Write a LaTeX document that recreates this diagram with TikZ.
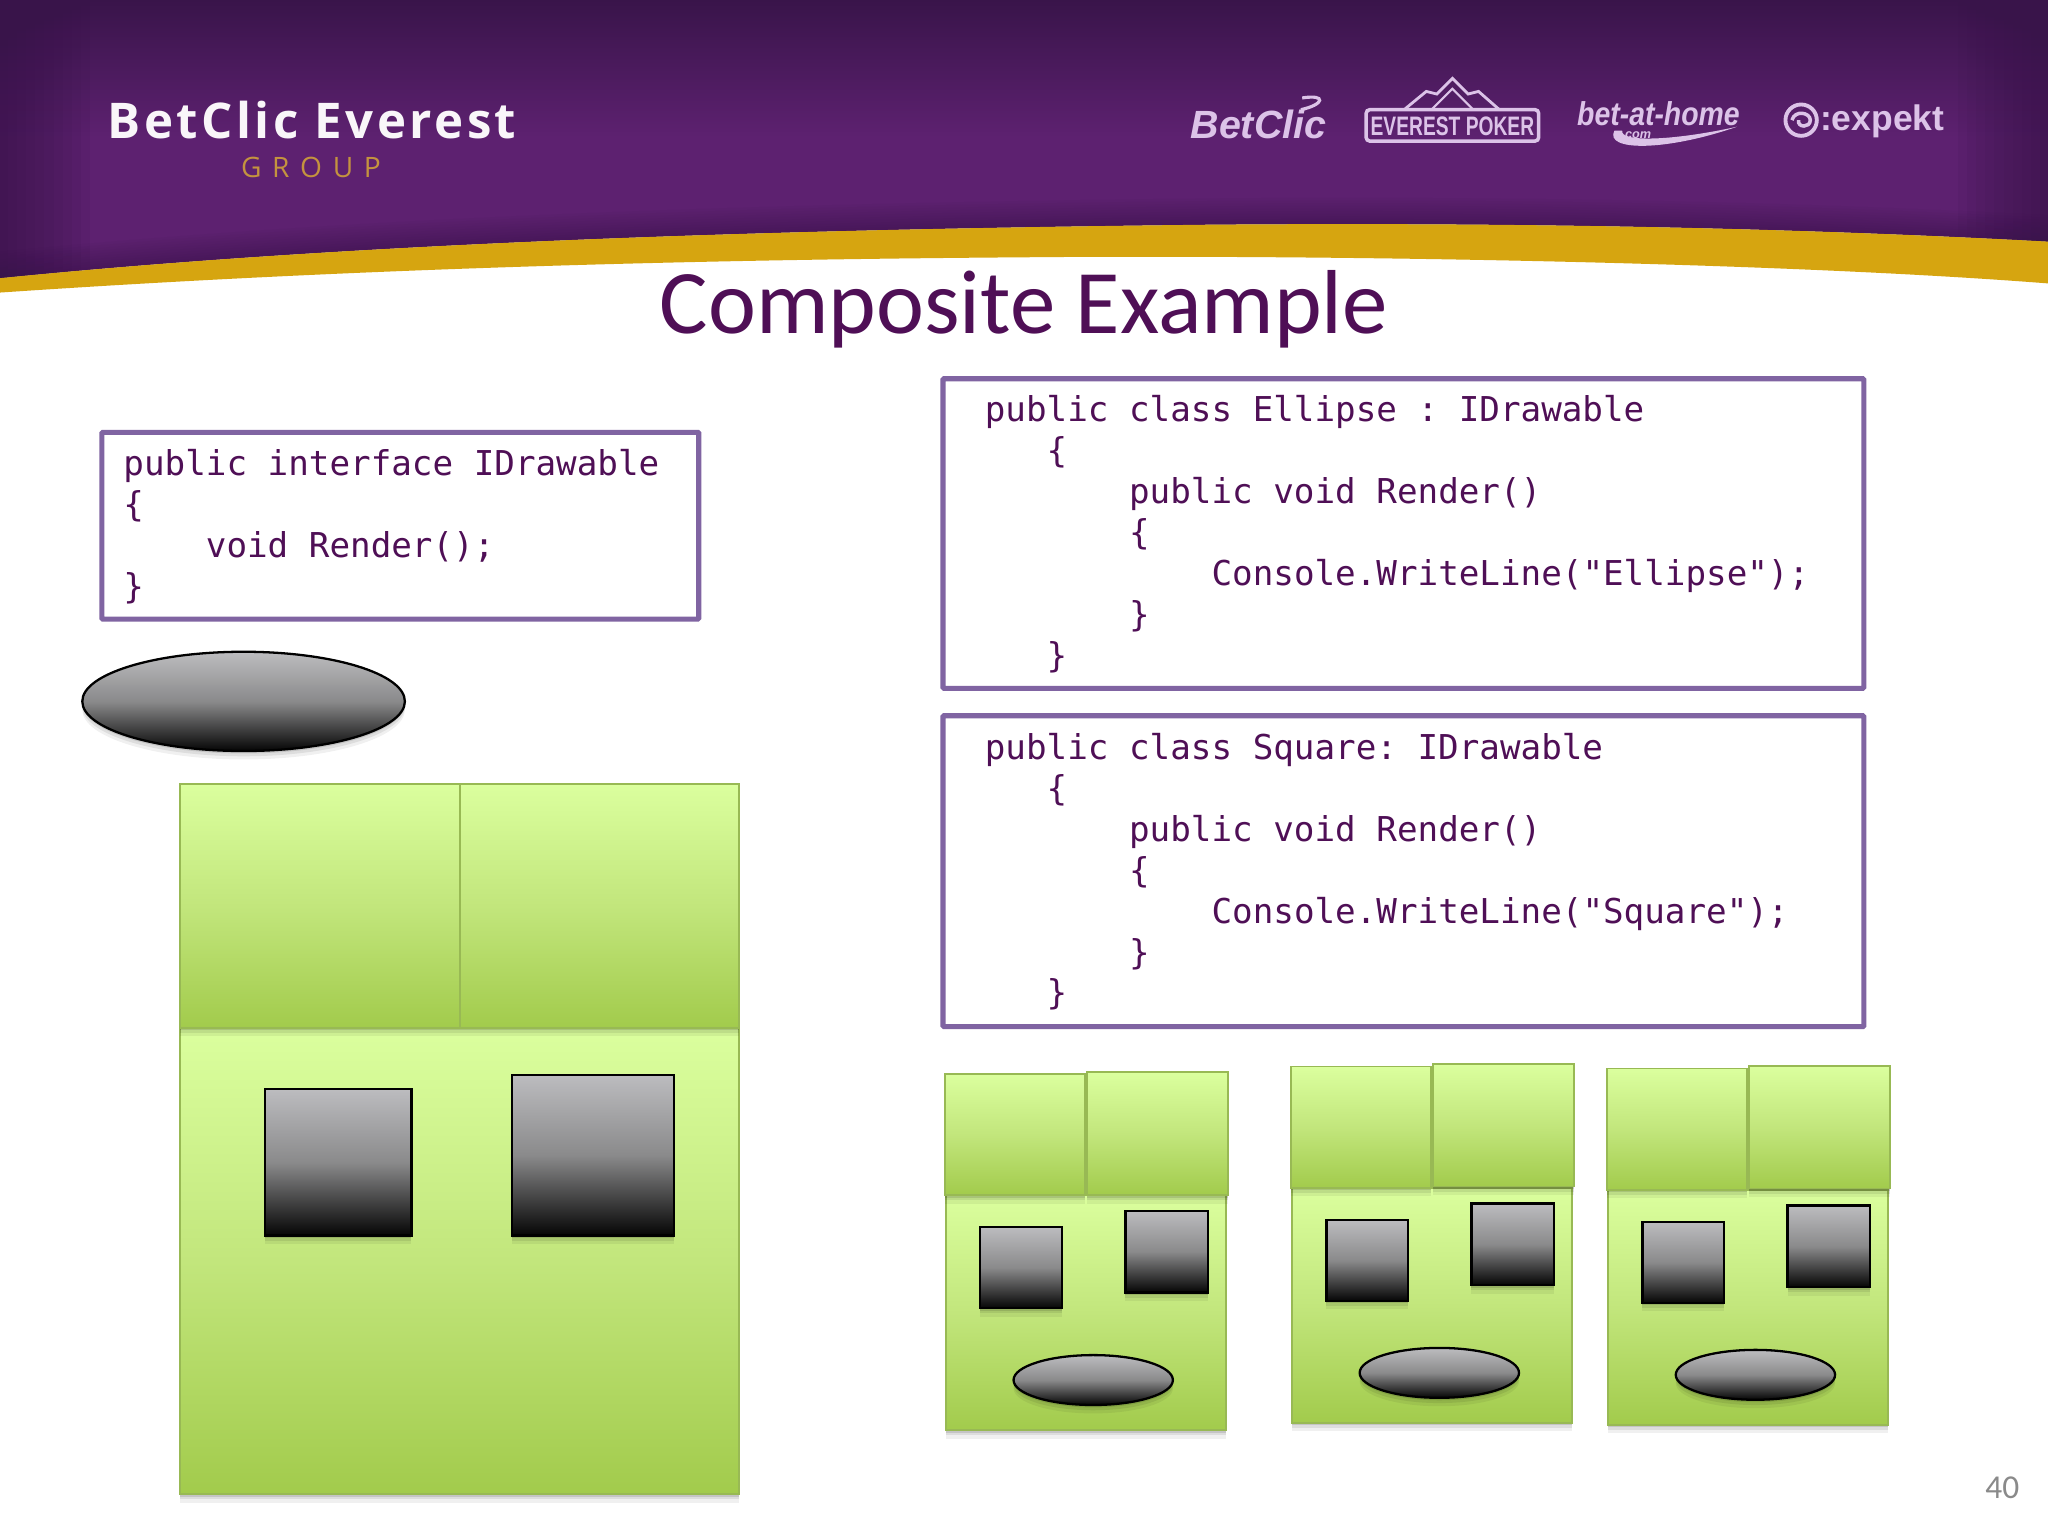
\documentclass[tikz,border=0pt]{standalone}
\usepackage{fontspec}
\newfontfamily\codefont{DejaVu Sans Mono}
\newfontfamily\titlefont{Carlito}
\newfontfamily\brandfont[LetterSpace=7]{Open Sans}
\newfontfamily\groupfont[LetterSpace=38]{Open Sans}
\newfontfamily\logofont{Liberation Sans}
\definecolor{purpleDark}{HTML}{39144A}
\definecolor{purpleMid}{HTML}{5D2170}
\definecolor{goldBand}{HTML}{D6A510}
\definecolor{inkPurple}{HTML}{4F0F56}
\definecolor{frameViolet}{HTML}{8064A2}
\definecolor{greenTop}{HTML}{DBFF9E}
\definecolor{greenMid}{HTML}{C2E67C}
\definecolor{greenBot}{HTML}{A2CB4C}
\definecolor{greenEdge}{HTML}{98B954}
\definecolor{grayTop}{HTML}{BCBCBF}
\definecolor{grayMid}{HTML}{8A8A8B}
\definecolor{grayBot}{HTML}{050505}
\definecolor{logoLilac}{HTML}{DCC3E8}
\definecolor{groupGold}{HTML}{C4933F}
\newcommand\pad[1]{\hspace*{#1\fontcharwd\font`a}}
\newcommand\smallfig[3]{%
  \begin{scope}[shift={(#1,#2)}]
    \draw[greenbox] (724,915) rectangle (938.6,1095);
    \draw[greenbox] (723.6,822) rectangle (830.5,915);
    \draw[greenbox] (832,821+#3) rectangle (940,915+#3);
    \draw[graybox] (750.5,939.4) rectangle (813,1001.6);
    \draw[graybox] (861.6,927) rectangle (924.6,989.5);
    \draw[graybox] (837,1056.6) ellipse [x radius=61,y radius=19.1];
  \end{scope}}
\tikzset{
  softshadow/.style={
    preaction={fill=black,opacity=.06,transform canvas={yshift=-2.4pt}},
    preaction={fill=black,opacity=.08,transform canvas={yshift=-1.5pt}},
    preaction={fill=black,opacity=.11,transform canvas={yshift=-.7pt}}},
  greenbox/.style={softshadow,draw=greenEdge,line width=.5pt,top color=greenTop,bottom color=greenBot,middle color=greenMid},
  graybox/.style={softshadow,draw=black,line width=.65pt,top color=grayTop,bottom color=grayBot,middle color=grayMid},
  codeframe/.style={draw=frameViolet,line width=1.45pt,rounded corners=.3pt},
  code/.style={font=\codefont\fontsize{9.74}{11.63}\selectfont\frenchspacing,text=inkPurple,align=left,anchor=north west,inner sep=0pt},
  logo/.style={text=logoLilac,inner sep=0pt,anchor=base west},
}
\begin{document}
\begin{tikzpicture}[x=0.0130612cm,y=-0.0130612cm]
\useasboundingbox (0,0) rectangle (1568,1176);
\fill[white] (0,0) rectangle (1568,1176);
% header
\begin{scope}
  \clip (0,213) .. controls (300,183) and (650,175) .. (930,172) .. controls (1200,170) and (1400,176) .. (1568,185) -- (1568,0) -- (0,0) -- cycle;
  \fill[top color=purpleDark,bottom color=purpleMid] (0,0) rectangle (1568,105);
  \fill[purpleMid] (0,105) rectangle (1568,230);
  \foreach \i in {0,...,9} {
    \fill[purpleDark,opacity=.1] (0,0) rectangle (6+\i*7,230);
    \fill[purpleDark,opacity=.1] (1562-\i*7,0) rectangle (1568,230);
    \draw[purpleDark,opacity=.06,line width={(1+\i)*1.5pt}] (0,213) .. controls (300,183) and (650,175) .. (930,172) .. controls (1200,170) and (1400,176) .. (1568,185);
  }
\end{scope}
\fill[goldBand] (0,213) .. controls (300,183) and (650,175) .. (930,172) .. controls (1200,170) and (1400,176) .. (1568,185)
  -- (1568,217) .. controls (1350,200) and (1000,195) .. (784,197) .. controls (500,199) and (250,207) .. (0,224) -- cycle;
% brand
\node[text=white!96!purpleMid,inner sep=0pt,anchor=base west] (brand) at (82,106) {\brandfont\fontsize{14}{16}\selectfont\bfseries BetClic Everest};
\node[text=groupGold,inner sep=0pt,anchor=base west] (group) at (184,136) {\groupfont\fontsize{8}{9}\selectfont GROUP};
% partner logos
\node[logo] (betclic) at (911,106) {\logofont\bfseries\itshape\fontsize{11.2}{13}\selectfont BetClic};
\draw[logoLilac,line width=.9pt] (996,84) .. controls (1014,80) and (1016,72) .. (997,75);
\draw[logoLilac,line width=1pt,rounded corners=1pt] (1046,84) rectangle (1178,108);
\draw[logoLilac,line width=.8pt] (1075,84) -- (1092,70) -- (1100,72) -- (1112,60) -- (1124,72) -- (1132,70) -- (1148,84);
\draw[logoLilac,line width=.6pt] (1096,84) -- (1112,68) -- (1128,84);
\node[text=logoLilac,inner sep=0pt] (everest) at (1112,97) {\scalebox{.72}[1]{\logofont\bfseries\fontsize{7.6}{9}\selectfont EVEREST POKER}};
\node[logo] (betathome) at (1207,96) {\scalebox{.86}[1]{\logofont\bfseries\itshape\fontsize{9.4}{11}\selectfont bet-at-home}};
\node[logo] (dotcom) at (1241,106) {\logofont\bfseries\itshape\fontsize{3.6}{4}\selectfont .com};
\fill[logoLilac] (1236,100) .. controls (1228,116) and (1275,116) .. (1330,97) .. controls (1280,108) and (1240,109) .. (1242,100) -- cycle;
\draw[logoLilac,line width=1.1pt] (1379,92) circle [radius=12];
\draw[logoLilac,line width=1pt] (1372,92) .. controls (1374,84) and (1386,86) .. (1386,92) .. controls (1386,98) and (1376,98) .. (1377,92);
\node[logo] (expekt) at (1393,100) {\logofont\bfseries\fontsize{10.1}{12}\selectfont :expekt};
% title
\node[text=inkPurple,inner sep=0pt,anchor=base] (title) at (784,255) {\titlefont\fontsize{25.85}{30}\selectfont Composite Example};
% code frames
\draw[codeframe] (78,331) rectangle (535,474);
\draw[codeframe] (722,290) rectangle (1427,527);
\draw[codeframe] (722,548) rectangle (1427,786);
\node[code] (c1) at (94,343.5) {public interface IDrawable\\\{\\\pad{4}void Render();\\\}};
\node[code] (c2) at (753.5,302.5) {public class Ellipse : IDrawable\\\pad{3}\{\\\pad{7}public void Render()\\\pad{7}\{\\\pad{11}Console.WriteLine("Ellipse");\\\pad{7}\}\\\pad{3}\}};
\node[code] (c3) at (753.5,561) {public class Square: IDrawable\\\pad{3}\{\\\pad{7}public void Render()\\\pad{7}\{\\\pad{11}Console.WriteLine("Square");\\\pad{7}\}\\\pad{3}\}};
% loose ellipse
\draw[graybox] (186.5,537) ellipse [x radius=123.5,y radius=38];
% large composite
\draw[greenbox] (138,787) rectangle (566,1144);
\draw[greenbox] (138,600) rectangle (352,787);
\draw[greenbox] (352,600) rectangle (566,787);
\draw[graybox] (203,834) rectangle (315,946);
\draw[graybox] (392,823) rectangle (516,946);
% small composites
\smallfig{0}{0}{0}
\smallfig{265}{-5.5}{-1}
\smallfig{507}{-4}{-1}
% page number
\node[text=black!46,inner sep=0pt] (pageno) at (1533,1139) {\titlefont\fontsize{9.5}{11}\selectfont 40};
\end{tikzpicture}
\end{document}
